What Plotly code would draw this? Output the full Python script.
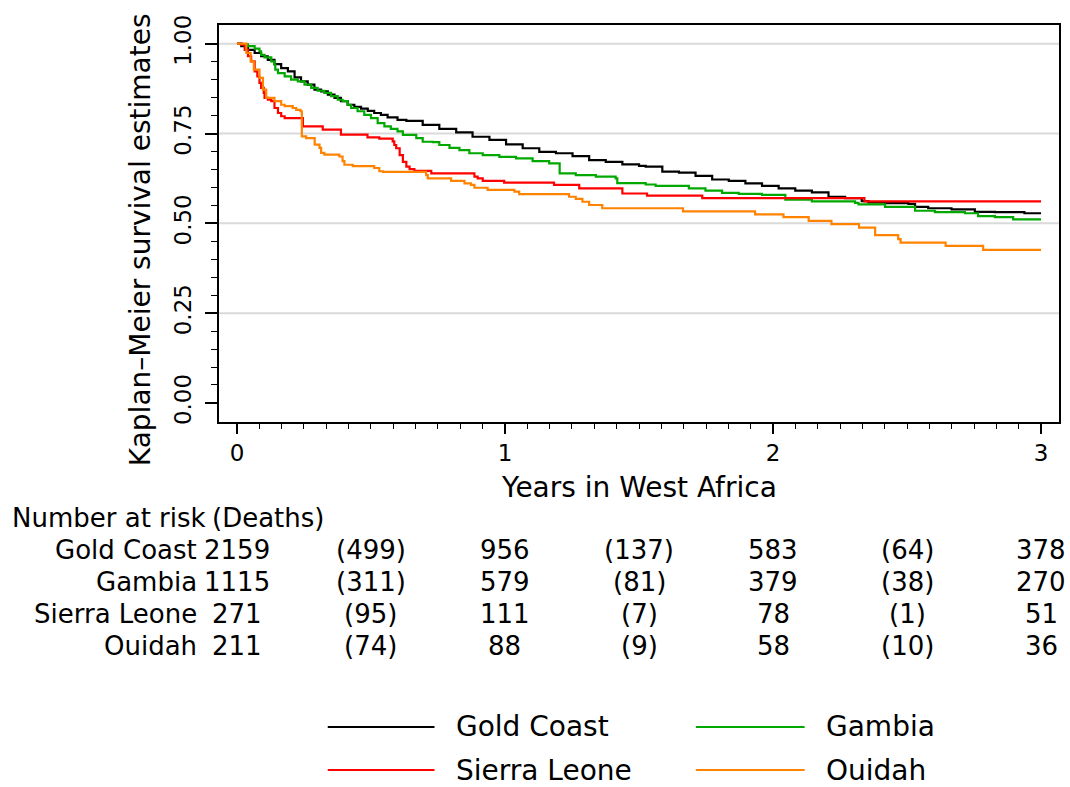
import plotly.graph_objects as go

# ---------------- data ----------------
gold_t = [0, 0.016, 0.041, 0.066, 0.09, 0.115, 0.14, 0.165, 0.19, 0.215, 0.239, 0.264, 0.289,
          0.314, 0.339, 0.364, 0.388, 0.413, 0.438, 0.463, 0.488, 0.512, 0.537, 0.562, 0.599,
          0.632, 0.693, 0.755, 0.818, 0.879, 0.942, 1.004, 1.066, 1.128, 1.19, 1.252, 1.314,
          1.376, 1.438, 1.5, 1.525, 1.587, 1.649, 1.711, 1.773, 1.835, 1.897, 1.959, 2.021,
          2.083, 2.145, 2.207, 2.269, 2.331, 2.356, 2.418, 2.505, 2.53, 2.579, 2.666, 2.753,
          2.828, 2.938, 3.0]
gold_s = [1.0, 0.993, 0.983, 0.974, 0.965, 0.955, 0.943, 0.932, 0.923, 0.906, 0.895, 0.886, 0.872,
          0.867, 0.858, 0.849, 0.84, 0.83, 0.824, 0.819, 0.813, 0.807, 0.802, 0.795, 0.788,
          0.785, 0.774, 0.763, 0.753, 0.741, 0.732, 0.72, 0.709, 0.699, 0.695, 0.687, 0.676,
          0.671, 0.664, 0.66, 0.658, 0.644, 0.641, 0.632, 0.622, 0.618, 0.611, 0.604, 0.597,
          0.591, 0.586, 0.574, 0.57, 0.562, 0.558, 0.556, 0.554, 0.546, 0.542, 0.539, 0.532,
          0.531, 0.528, 0.528]

gambia_t = [0, 0.016, 0.041, 0.066, 0.084, 0.09, 0.103, 0.128, 0.14, 0.143, 0.153, 0.178, 0.202,
            0.227, 0.252, 0.277, 0.301, 0.326, 0.351, 0.376, 0.394, 0.413, 0.426, 0.45, 0.475,
            0.5, 0.525, 0.55, 0.574, 0.599, 0.619, 0.669, 0.693, 0.731, 0.755, 0.793, 0.83,
            0.867, 0.917, 0.979, 1.041, 1.103, 1.165, 1.204, 1.264, 1.339, 1.413, 1.419, 1.525,
            1.562, 1.686, 1.748, 1.81, 1.872, 1.959, 2.046, 2.145, 2.306, 2.319, 2.418, 2.53,
            2.604, 2.716, 2.765, 2.828, 2.896, 3.0]
gambia_s = [1.0, 0.998, 0.993, 0.986, 0.979, 0.969, 0.962, 0.951, 0.942, 0.928, 0.918, 0.909, 0.9,
            0.895, 0.886, 0.877, 0.869, 0.863, 0.854, 0.844, 0.84, 0.83, 0.821, 0.812, 0.802,
            0.793, 0.779, 0.77, 0.763, 0.756, 0.746, 0.737, 0.727, 0.726, 0.718, 0.71, 0.704,
            0.695, 0.69, 0.685, 0.681, 0.673, 0.667, 0.639, 0.634, 0.63, 0.625, 0.612, 0.608,
            0.604, 0.597, 0.591, 0.585, 0.582, 0.579, 0.566, 0.561, 0.557, 0.553, 0.546, 0.535,
            0.531, 0.528, 0.52, 0.517, 0.511, 0.511]

sierra_t = [0, 0.016, 0.029, 0.041, 0.053, 0.066, 0.076, 0.084, 0.09, 0.1, 0.103, 0.115, 0.128,
            0.14, 0.153, 0.165, 0.178, 0.246, 0.32, 0.388, 0.487, 0.531, 0.581, 0.587, 0.594,
            0.607, 0.619, 0.632, 0.644, 0.662, 0.725, 0.886, 0.898, 0.917, 0.997, 1.183, 1.277,
            1.438, 1.53, 1.736, 2.341, 3.0]
sierra_s = [1.0, 0.997, 0.983, 0.965, 0.951, 0.923, 0.909, 0.891, 0.877, 0.863, 0.849, 0.844, 0.84,
            0.821, 0.807, 0.798, 0.793, 0.77, 0.761, 0.747, 0.739, 0.736, 0.728, 0.718, 0.709,
            0.69, 0.671, 0.658, 0.651, 0.646, 0.639, 0.63, 0.625, 0.618, 0.613, 0.607, 0.597,
            0.583, 0.577, 0.57, 0.561, 0.561]

ouidah_t = [0, 0.035, 0.051, 0.063, 0.084, 0.097, 0.109, 0.14, 0.165, 0.178, 0.208, 0.221, 0.237,
            0.242, 0.258, 0.29, 0.308, 0.314, 0.326, 0.382, 0.394, 0.401, 0.432, 0.512, 0.531,
            0.545, 0.706, 0.712, 0.799, 0.849, 0.873, 0.886, 0.935, 1.035, 1.053, 1.239, 1.264,
            1.289, 1.314, 1.363, 1.664, 1.933, 2.039, 2.133, 2.218, 2.321, 2.381, 2.467, 2.476,
            2.644, 2.784, 3.0]
ouidah_s = [1.0, 0.974, 0.951, 0.928, 0.905, 0.872, 0.849, 0.84, 0.83, 0.826, 0.821, 0.816, 0.812,
            0.742, 0.737, 0.719, 0.71, 0.696, 0.691, 0.686, 0.673, 0.663, 0.659, 0.654, 0.645,
            0.643, 0.634, 0.625, 0.618, 0.611, 0.607, 0.599, 0.593, 0.588, 0.581, 0.574, 0.568,
            0.56, 0.551, 0.542, 0.533, 0.525, 0.517, 0.507, 0.498, 0.488, 0.467, 0.456, 0.446,
            0.437, 0.426, 0.426]

series_names = ["Gold Coast", "Gambia", "Sierra Leone", "Ouidah"]
series_colors = ["#000000", "#00a800", "#ff0000", "#ff8200"]

# number-at-risk table
risk_times = [0, 1, 2, 3]
death_times = [0.5, 1.5, 2.5]
at_risk = {
    "Gold Coast": [2159, 956, 583, 378],
    "Gambia": [1115, 579, 379, 270],
    "Sierra Leone": [271, 111, 78, 51],
    "Ouidah": [211, 88, 58, 36],
}
deaths = {
    "Gold Coast": [499, 137, 64],
    "Gambia": [311, 81, 38],
    "Sierra Leone": [95, 7, 1],
    "Ouidah": [74, 9, 10],
}

x_ticks = [0, 1, 2, 3]
y_ticks = [0, 0.25, 0.5, 0.75, 1.0]
y_ticktext = ["0.00", "0.25", "0.50", "0.75", "1.00"]
grid_levels = [0.25, 0.5, 0.75, 1.0]

# ---------------- geometry helpers (pixel -> paper) ----------------
W, H = 1070, 787
L, R, T, B = 219, 9, 25, 365
PW, PH = W - L - R, H - T - B


def px(x):
    return (x - L) / PW


def py(y):
    return (H - B - y) / PH


FONT = "DejaVu Sans"

fig = go.Figure()
series = [(gold_t, gold_s), (gambia_t, gambia_s), (sierra_t, sierra_s), (ouidah_t, ouidah_s)]
for (t, s), name, col in zip(series, series_names, series_colors):
    fig.add_trace(go.Scatter(x=t, y=s, mode="lines", name=name,
                             line=dict(color=col, width=2.2, shape="hv"),
                             showlegend=False, hoverinfo="skip"))

shapes = []
for g in grid_levels:
    shapes.append(dict(type="line", xref="paper", yref="y", x0=0, x1=1, y0=g, y1=g,
                       line=dict(color="#dadada", width=2), layer="below"))

annotations = []
# axis titles
annotations.append(dict(text="Years in West Africa", xref="paper", yref="paper",
                        x=px(640), y=py(488), xanchor="center", yanchor="middle",
                        showarrow=False, font=dict(family=FONT, size=28, color="black")))
annotations.append(dict(text="Kaplan\u2013Meier survival estimates", xref="paper", yref="paper",
                        x=px(140), y=py(240), xanchor="center", yanchor="middle", textangle=-90,
                        showarrow=False, font=dict(family=FONT, size=28, color="black")))

# table
tfont = dict(family=FONT, size=26, color="black")
annotations.append(dict(text="Number at risk", xref="paper", yref="paper", x=px(10), y=py(518),
                        xanchor="left", yanchor="middle", showarrow=False, font=tfont))
annotations.append(dict(text="(Deaths)", xref="paper", yref="paper", x=px(210), y=py(518),
                        xanchor="left", yanchor="middle", showarrow=False, font=tfont))
row_y = [550, 582, 614, 646]
for name, ry in zip(series_names, row_y):
    annotations.append(dict(text=name, xref="paper", yref="paper", x=px(199), y=py(ry),
                            xanchor="right", yanchor="middle", showarrow=False, font=tfont))
    for tt, v in zip(risk_times, at_risk[name]):
        annotations.append(dict(text=str(v), xref="x", yref="paper", x=tt, y=py(ry),
                                xanchor="center", yanchor="middle", showarrow=False, font=tfont))
    for tt, v in zip(death_times, deaths[name]):
        annotations.append(dict(text=f"({v})", xref="x", yref="paper", x=tt, y=py(ry),
                                xanchor="center", yanchor="middle", showarrow=False, font=tfont))

# legend (drawn manually, Stata style)
lfont = dict(family=FONT, size=28, color="black")
leg_pos = [(328, 435, 455, 727), (697, 806, 825, 727), (328, 435, 455, 770), (697, 806, 825, 770)]
for name, col, (x0, x1, xt, yy) in zip(series_names, series_colors, leg_pos):
    shapes.append(dict(type="line", xref="paper", yref="paper", x0=px(x0), x1=px(x1),
                       y0=py(yy), y1=py(yy), line=dict(color=col, width=2)))
    annotations.append(dict(text=name, xref="paper", yref="paper", x=px(xt), y=py(yy),
                            xanchor="left", yanchor="middle", showarrow=False, font=lfont))

x_minor = [k / 12 for k in range(1, 36) if k % 12 != 0]
y_minor = [k / 20 for k in range(1, 20) if k % 5 != 0]

fig.update_layout(
    width=W, height=H, autosize=False,
    margin=dict(l=L, r=R, t=T, b=B, pad=0),
    paper_bgcolor="white", plot_bgcolor="white",
    showlegend=False,
    shapes=shapes, annotations=annotations,
    xaxis=dict(range=[-0.067, 3.067], tickmode="array", tickvals=x_ticks,
               ticktext=[str(v) for v in x_ticks],
               ticks="outside", ticklen=10, tickwidth=1.5, tickcolor="black",
               minor=dict(tickmode="array", tickvals=x_minor, ticks="outside", ticklen=5,
                          tickwidth=1.2, tickcolor="black", showgrid=False),
               showline=True, linecolor="black", linewidth=1.5, mirror=True,
               showgrid=False, zeroline=False,
               tickfont=dict(family=FONT, size=23, color="black")),
    yaxis=dict(range=[-0.053, 1.052], tickmode="array", tickvals=y_ticks, ticktext=y_ticktext,
               tickangle=-90, ticklabelstandoff=5,
               ticks="outside", ticklen=12, tickwidth=1.5, tickcolor="black",
               minor=dict(tickmode="array", tickvals=y_minor, ticks="outside", ticklen=6,
                          tickwidth=1.2, tickcolor="black", showgrid=False),
               showline=True, linecolor="black", linewidth=1.5, mirror=True,
               showgrid=False, zeroline=False,
               tickfont=dict(family=FONT, size=23, color="black")),
)

fig.write_html("out.html")
